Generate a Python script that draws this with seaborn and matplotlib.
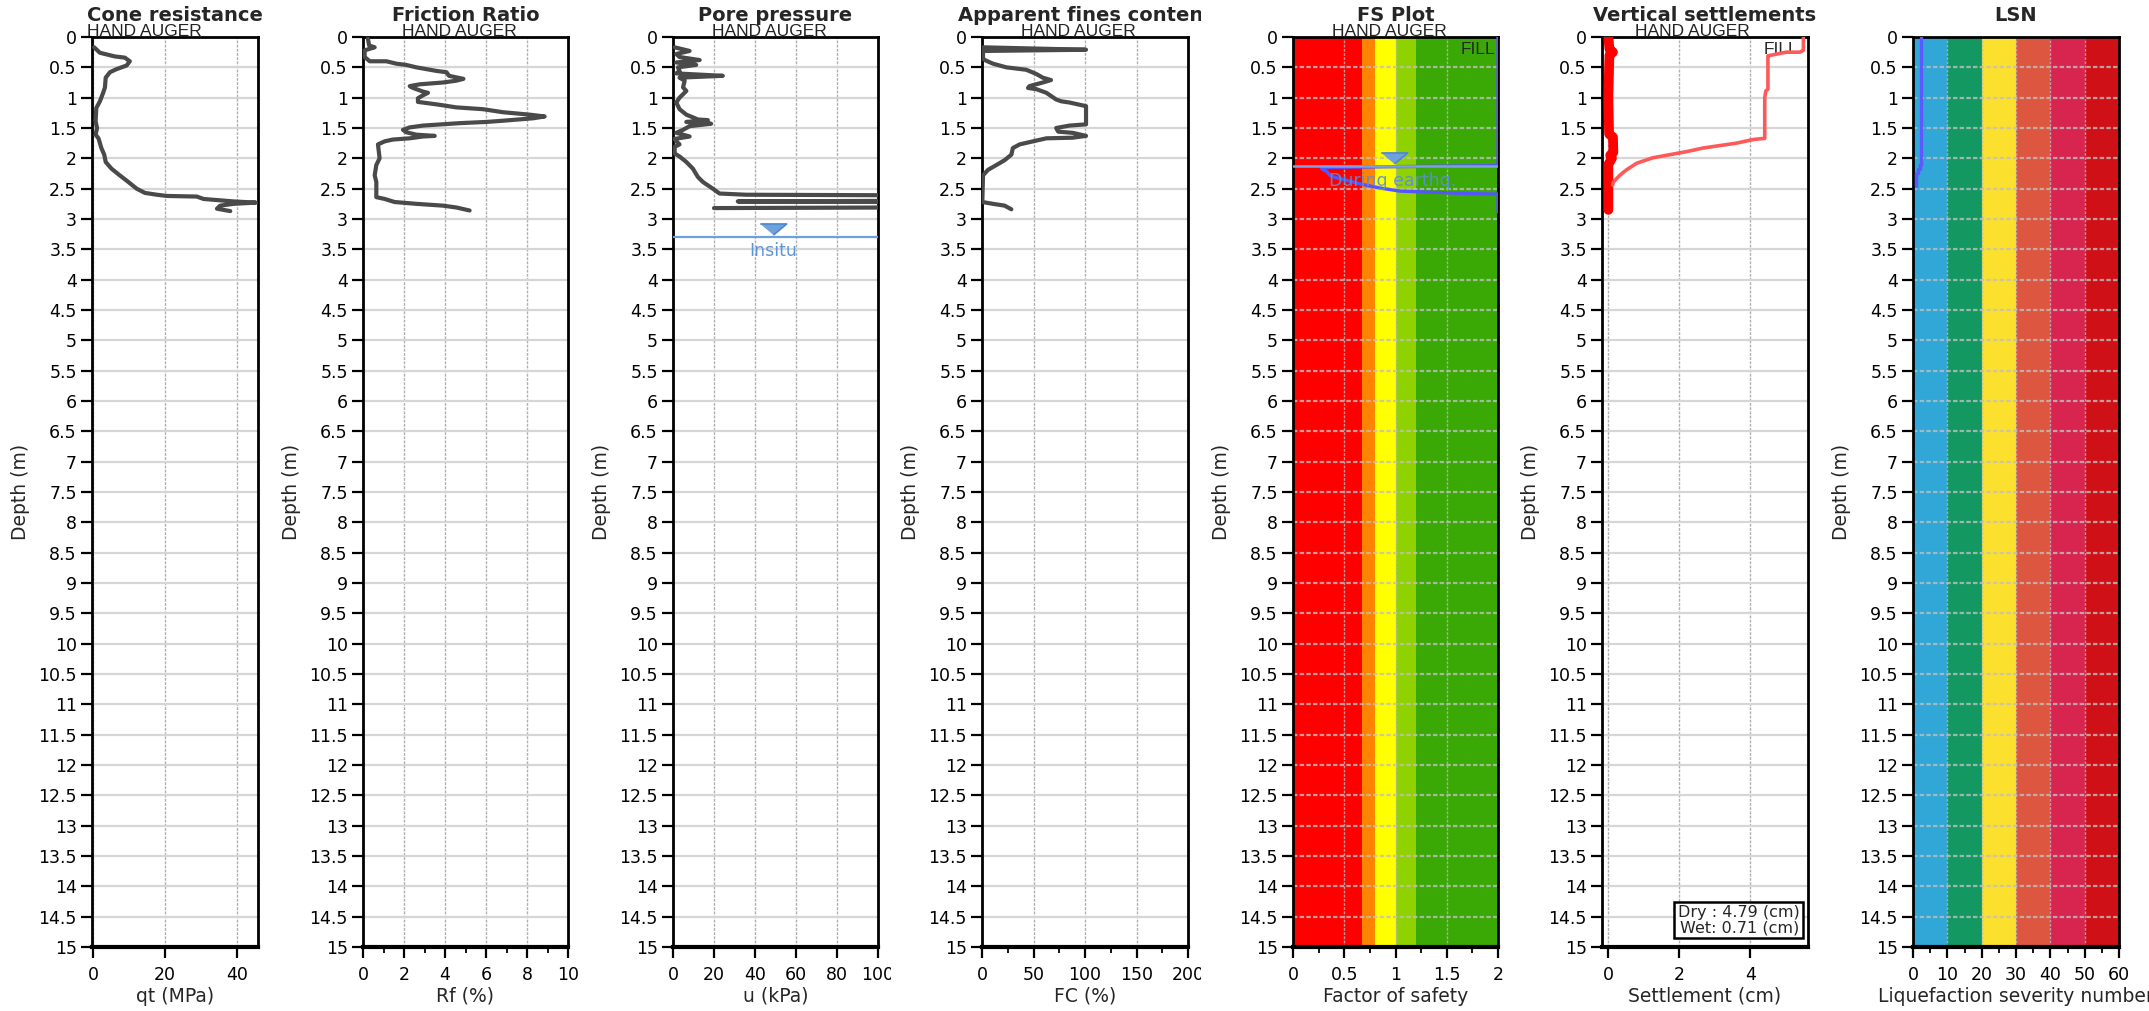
import numpy as np
import pandas as pd
import matplotlib
matplotlib.use("Agg")
import matplotlib.pyplot as plt
import seaborn as sns
from matplotlib.transforms import Bbox
from matplotlib.ticker import FixedLocator
from matplotlib import font_manager

# ---------------- data ----------------
qt_depth = [0.17,0.26,0.32,0.34,0.40,0.47,0.53,0.58,0.67,0.83,0.92,1.06,1.17,1.39,1.50,1.61,1.67,1.83,1.94,2.06,
            2.17,2.28,2.39,2.50,2.57,2.60,2.62,2.63,2.67,2.71,2.73,2.75,2.78,2.83,2.87]
qt = [0.3,1.9,6.0,8.8,10.2,9.3,6.5,4.7,3.5,3.3,2.8,1.9,0.9,0.7,1.1,0.7,1.5,2.3,3.1,3.5,
      5.1,7.4,9.8,12.1,14.4,17.7,20.5,28.8,30.7,39.0,45.2,39.0,35.3,34.4,38.1]

rf_depth = [0.03,0.14,0.17,0.22,0.33,0.40,0.40,0.44,0.46,0.50,0.56,0.58,0.64,0.69,0.72,0.75,0.78,0.81,0.84,0.90,
            0.92,0.96,1.01,1.07,1.11,1.16,1.19,1.24,1.28,1.31,1.34,1.38,1.40,1.42,1.46,1.49,1.53,1.57,1.61,1.63,
            1.64,1.67,1.69,1.72,1.77,2.00,2.11,2.28,2.39,2.64,2.67,2.72,2.75,2.78,2.81,2.86]
rf = [0.24,0.30,0.57,0.08,0.08,0.33,1.14,1.63,2.10,2.60,3.60,4.07,4.20,4.90,4.55,3.90,2.76,2.28,2.44,2.93,
      3.17,2.93,2.68,2.68,3.58,4.55,5.85,6.83,8.13,8.86,8.30,6.83,6.02,4.72,2.93,2.28,1.95,2.11,2.60,3.50,
      2.93,2.28,1.46,1.06,0.73,0.81,0.65,0.57,0.65,0.65,1.06,1.54,2.60,3.90,4.55,5.20]

u_depth = [0.17,0.23,0.28,0.33,0.38,0.42,0.46,0.50,0.56,0.60,0.64,0.67,0.72,0.83,0.89,1.00,1.08,1.19,1.28,1.36,
           1.37,1.40,1.43,1.47,1.53,1.58,1.64,1.68,1.72,1.77,1.81,1.92,1.97,2.06,2.17,2.31,2.39,2.50,2.58,2.60,
           2.62,2.69,2.71,2.73,2.80,2.82]
u = [0.8,8.1,1.6,3.2,13.0,1.6,11.3,2.4,3.2,1.6,24.3,3.2,5.7,4.9,6.5,3.2,1.6,3.2,6.5,12.2,
     17.0,6.5,18.6,8.1,4.9,1.6,8.1,0.8,1.6,3.2,0.8,0.8,3.2,6.5,9.7,12.2,14.6,19.4,22.7,35.7,
     200,200,31.6,200,200,20.0]

fc_depth = [0.17,0.21,0.23,0.36,0.39,0.44,0.50,0.54,0.61,0.67,0.71,0.75,0.81,0.84,0.86,0.92,1.03,1.06,1.08,1.14,
            1.44,1.46,1.50,1.56,1.58,1.63,1.66,1.67,1.72,1.77,1.83,1.94,2.03,2.11,2.19,2.28,2.72,2.75,2.78,2.84]
fc = [1,101,1,1,4,10.7,23.6,43,52.8,59,67,59,46,44.7,52.8,62.5,72,77,85,101,
      101,85,72,74,88,101,88,62.5,49.5,36.6,30,28.5,22,14,5.8,1,0.3,10.7,22,28.5]

fs_depth = [0.0,2.12,2.15,2.17,2.22,2.28,2.31,2.36,2.42,2.49,2.54,2.56,2.58,2.59,2.88]
fs = [2.0,2.0,0.28,0.28,0.33,0.36,0.40,0.52,0.65,0.85,1.04,1.37,1.69,2.0,2.0]
fs_band_edges = [0.0,0.67,0.8,1.0,1.2,2.0]
fs_band_colors = ["#fe0000","#ff8300","#ffff00","#90d100","#3aa805"]

dry_depth = [0,0.22,0.25,0.25,0.31,0.86,0.89,1.0,1.67,1.69,1.75,1.79,1.83,1.89,1.94,1.99,2.08,2.19,2.28,2.39,2.44]
dry = [5.5,5.5,5.4,5.02,4.5,4.5,4.44,4.41,4.41,4.08,3.61,3.14,2.67,2.2,1.73,1.26,0.8,0.51,0.32,0.14,0.12]
wet_depth = [0,0.2,0.25,0.3,0.5,1.0,1.6,1.65,1.9,1.95,2.0,2.1,2.5,2.85]
wet = [0.0,0.03,0.13,0.03,0.02,0.0,0.02,0.13,0.14,0.05,0.1,0.0,0.0,0.0]
dry_total, wet_total = 4.79, 0.71

lsn_depth = [0.0,2.11,2.11,2.17,2.17,2.24,2.24,2.45]
lsn = [2.4,2.4,1.9,1.9,1.4,1.4,0.8,0.8]
lsn_band_edges = [0,10,20,30,40,50,60]
lsn_band_colors = ["#30a7d7","#149862","#fce02e","#dd5640","#d72550","#cf1016"]

gwt_insitu, gwt_eq = 3.3, 2.12

titles = ["Cone resistance","Friction Ratio","Pore pressure","Apparent fines content",
          "FS Plot","Vertical settlements","LSN"]
xlabels = ["qt (MPa)","Rf (%)","u (kPa)","FC (%)","Factor of safety","Settlement (cm)",
           "Liquefaction severity number"]
subtitle = "HAND AUGER"

# ---------------- style ----------------
sns.set_theme(style="ticks")
plt.rcParams["font.family"] = ["DejaVu Sans"]
_names = {f.name for f in font_manager.fontManager.ttflist}
NARROW = [n for n in ["Liberation Sans Narrow", "DejaVu Sans Condensed", "Liberation Sans", "DejaVu Sans"]
          if n in _names] or ["DejaVu Sans"]
NARROW_SIZE = {"Liberation Sans Narrow": 12.5, "DejaVu Sans Condensed": 11.5,
               "Liberation Sans": 12.5}.get(NARROW[0], 11)

W, H = 2149, 1011
fig = plt.figure(figsize=(W/100, H/100), dpi=100)
panels = [(92,258),(363,568),(673,878),(982,1188),(1293,1498),(1602,1808),(1913,2119)]
top, bot = 37, 947
sub_left = [87, 402, 712, 1021, 1332, 1635]

PROF = "#4a4a4a"
axes = []
for i, (l, r) in enumerate(panels):
    ax = fig.add_axes([l/W, (H-bot)/H, (r-l)/W, (bot-top)/H])
    ax.set_facecolor("white")
    axes.append(ax)

def profile(ax, x, y, color=PROF, lw=3.0, z=3):
    df = pd.DataFrame({"x": x, "y": y})
    sns.lineplot(data=df, x="x", y="y", sort=False, estimator=None, orient="y",
                 color=color, lw=lw, ax=ax, zorder=z, solid_capstyle="round",
                 solid_joinstyle="round")

profile(axes[0], qt, qt_depth)
profile(axes[1], rf, rf_depth)
profile(axes[2], u, u_depth)
profile(axes[3], fc, fc_depth)

for a, b, c in zip(fs_band_edges[:-1], fs_band_edges[1:], fs_band_colors):
    axes[4].axvspan(a, b, color=c, zorder=0.5, lw=0)
profile(axes[4], fs, fs_depth, color="#5555ff", lw=2.4, z=3)

profile(axes[5], wet, wet_depth, color="#ff0000", lw=7.0, z=3)
profile(axes[5], dry, dry_depth, color="#ff5a5a", lw=2.6, z=4)

for a, b, c in zip(lsn_band_edges[:-1], lsn_band_edges[1:], lsn_band_colors):
    axes[6].axvspan(a, b, color=c, zorder=0.5, lw=0)
profile(axes[6], lsn, lsn_depth, color="#5a5aff", lw=2.4, z=3)

tri = [(-1, 0.42), (1, 0.42), (0, -0.42)]
WT = "#6c9fdc"
ax = axes[2]
ax.axhline(gwt_insitu, color=WT, lw=1.6, zorder=4)
ax.plot([49], [gwt_insitu-0.13], marker=tri, ms=19, mfc="#6fa2dc", mec="#4f86cc", mew=1.2, zorder=5)
ax.text(49, gwt_insitu+0.22, "Insitu", color="#5b96d8", fontsize=12.5, ha="center", va="center", zorder=5)
ax = axes[4]
ax.axhline(gwt_eq, color="#7f9fe6", lw=1.8, zorder=4)
ax.plot([0.99], [gwt_eq-0.13], marker=tri, ms=19, mfc="#6fa2dc", mec="#4f86cc", mew=1.2, zorder=5)
ax.text(0.97, gwt_eq+0.25, "During earthq.", color="#5b8fd6", alpha=0.9, fontsize=12.5,
        ha="center", va="center", zorder=5)
ax.text(1.97, 0.21, "FILL", fontsize=NARROW_SIZE, family=NARROW, ha="right", va="center", zorder=6)
axes[5].text(5.35, 0.21, "FILL", fontsize=NARROW_SIZE, family=NARROW, ha="right", va="center", zorder=2.2)

axes[5].text(0.958, 0.013, f"Dry : {dry_total:.2f} (cm)\nWet: {wet_total:.2f} (cm)",
             transform=axes[5].transAxes, ha="right", va="bottom", fontsize=11.5, linespacing=1.0,
             bbox=dict(boxstyle="square,pad=0.2", fc="white", ec="black", lw=1.8), zorder=6)

xlims = [(-0.3,45.8),(0,10),(0,100),(0,200),(0,2),(-0.18,5.63),(0,60)]
xmaj = [[0,20,40],[0,2,4,6,8,10],[0,20,40,60,80,100],[0,50,100,150,200],
        [0,0.5,1,1.5,2],[0,2,4],[0,10,20,30,40,50,60]]
xmin = [None,[1,3,5,7,9],None,[25,75,125,175],[0.25,0.75,1.25,1.75],None,[5,15,25,35,45,55]]
depth_ticks = np.arange(0, 15.001, 0.5)

for i, ax in enumerate(axes):
    l, r = panels[i]
    ax.set_xlim(*xlims[i])
    ax.set_ylim(15, 0)
    ax.set_yticks(depth_ticks)
    ax.set_yticklabels([f"{v:g}" for v in depth_ticks])
    ax.set_xticks(xmaj[i])
    ax.set_xticklabels([f"{v:g}" for v in xmaj[i]])
    if xmin[i] is not None:
        ax.xaxis.set_minor_locator(FixedLocator(xmin[i]))
    ax.set_axisbelow("line")
    banded = i in (4, 6)
    ax.grid(False)
    ax.xaxis.grid(True, which="major", color="#b0b0b0" if not banded else "#b8b8b8",
                  lw=1.0, ls=(0, (2, 1)), alpha=1.0 if not banded else 0.8)
    ax.yaxis.grid(True, which="major", color="#d6d6d6" if not banded else "#c0c0c0",
                  lw=1.6, ls="-" if not banded else (0, (2, 1)), alpha=1.0 if not banded else 0.8)
    ax.tick_params(axis="both", which="major", direction="out", length=8, width=1.6,
                   labelsize=12.5, color="black", labelcolor="black")
    ax.tick_params(axis="y", pad=3)
    ax.tick_params(axis="x", pad=6)
    ax.tick_params(axis="x", which="minor", direction="out", length=4, width=1.3, color="black")
    ax.tick_params(axis="y", which="minor", left=False)
    for s in ax.spines.values():
        s.set_visible(True)
        s.set_color("black")
        s.set_linewidth(2.0)
    ax.spines["bottom"].set_linewidth(3.0)
    ax.set_xlabel(xlabels[i], fontsize=13.5)
    ax.xaxis.set_label_coords(0.5, -(987-947)/(bot-top))
    ax.set_ylabel("Depth (m)", fontsize=13.5)
    ax.yaxis.set_label_coords((30-92)/(r-l) if i == 0 else -62/(r-l), 0.5)

    x0 = 0 if i == 0 else panels[i-1][1] + 13
    x1 = W if i == len(panels)-1 else r + 13
    bb = Bbox.from_extents(x0, 0, x1, H)
    t = fig.text((l+r)/2/W, (H-21)/H, titles[i], fontsize=14, fontweight="bold",
                 ha="center", va="baseline")
    t.set_clip_box(bb); t.set_clip_on(True)
    if i < 6:
        fig.text(sub_left[i]/W, (H-36)/H, subtitle, fontsize=NARROW_SIZE, family=NARROW,
                 ha="left", va="baseline", color="#222222")
    for lab in ax.get_xticklabels():
        lab.set_clip_box(bb); lab.set_clip_on(True)
    ax.xaxis.label.set_clip_box(bb); ax.xaxis.label.set_clip_on(True)

fig.savefig("out.png", dpi=100, facecolor="white")
